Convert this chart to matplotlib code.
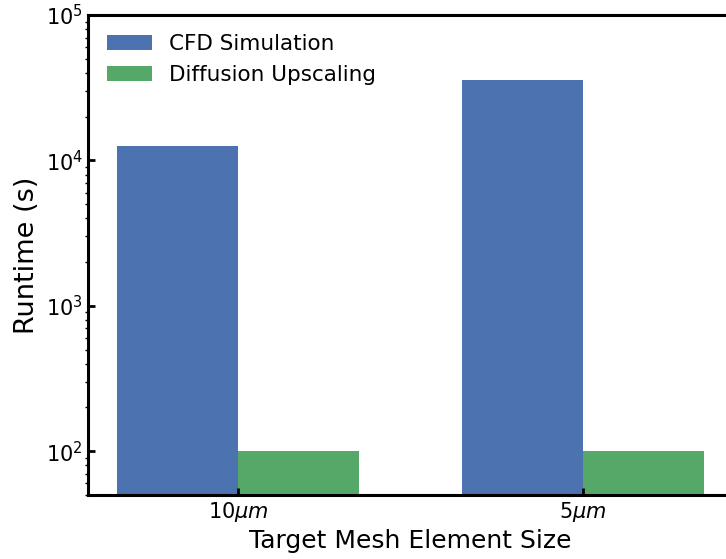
import numpy as np
import matplotlib
matplotlib.use("Agg")
import matplotlib.pyplot as plt

# runtimes in seconds for each mesh size
sizes = [r"10$\mu m$", r"5$\mu m$"]
cfd_runtime = [12500, 36000]
diffusion_runtime = [100, 100]

fig = plt.figure(figsize=(7.26, 5.59), dpi=100)
ax = fig.add_axes([88 / 726, 64 / 559, 645 / 726, 480 / 559])

x = np.arange(len(sizes))
width = 0.35
ax.bar(x - width / 2, cfd_runtime, width, color="#4C72B0", label="CFD Simulation")
ax.bar(x + width / 2, diffusion_runtime, width, color="#55A868", label="Diffusion Upscaling")

ax.set_yscale("log")
ax.set_ylim(50, 1e5)
ax.set_xticks(x)
ax.set_xticklabels(sizes, fontsize=15)
ax.tick_params(axis="y", labelsize=15)
ax.tick_params(which="major", direction="in", length=5, width=2)
ax.tick_params(which="minor", direction="out", length=2.5, width=1)

for side in ["left", "bottom", "top", "right"]:
    ax.spines[side].set_linewidth(2.2)

ax.set_xlabel("Target Mesh Element Size", fontsize=18)
ax.set_ylabel("Runtime (s)", fontsize=19.5)
ax.legend(loc="upper left", frameon=False, fontsize=15.5, handlelength=2.05)

fig.savefig("out.png", dpi=100)
